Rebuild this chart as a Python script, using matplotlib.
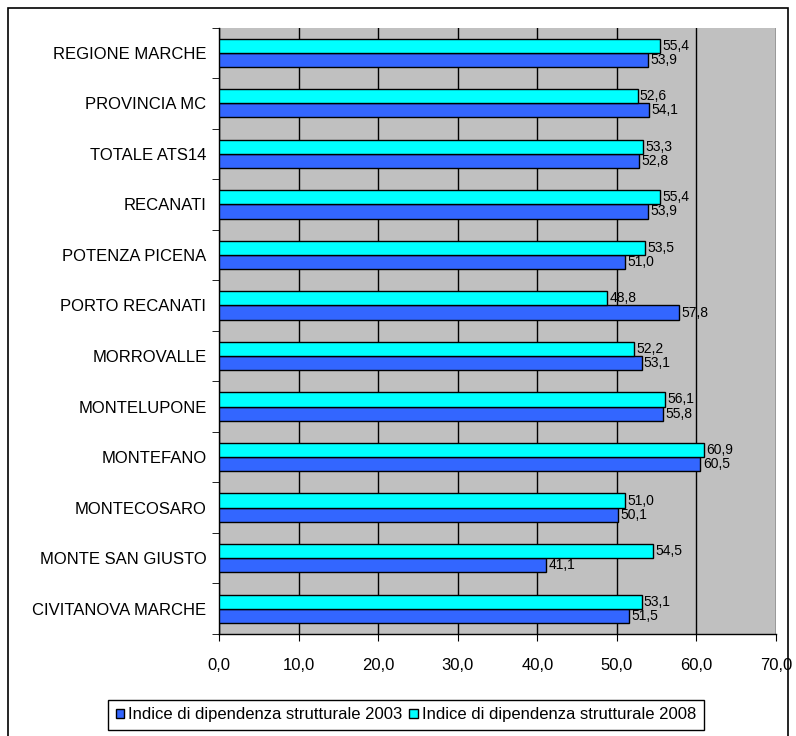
import matplotlib.pyplot as plt
import numpy as np
from matplotlib.patches import Rectangle

plt.rcParams['font.family'] = ['Liberation Sans', 'DejaVu Sans']

# categories listed top to bottom as in the chart
categories = ['REGIONE MARCHE', 'PROVINCIA MC', 'TOTALE ATS14', 'RECANATI',
              'POTENZA PICENA', 'PORTO RECANATI', 'MORROVALLE', 'MONTELUPONE',
              'MONTEFANO', 'MONTECOSARO', 'MONTE SAN GIUSTO', 'CIVITANOVA MARCHE']
val_2003 = [53.9, 54.1, 52.8, 53.9, 51.0, 57.8, 53.1, 55.8, 60.5, 50.1, 41.1, 51.5]
val_2008 = [55.4, 52.6, 53.3, 55.4, 53.5, 48.8, 52.2, 56.1, 60.9, 51.0, 54.5, 53.1]
x_ticks = [0, 10, 20, 30, 40, 50, 60, 70]

fig = plt.figure(figsize=(7.96, 7.36), dpi=100)
fig.patches.append(Rectangle((8 / 796, -0.01), 780 / 796, 1 - 8 / 736 + 0.01,
                             transform=fig.transFigure, fill=False,
                             edgecolor='black', linewidth=1.2))
ax = fig.add_axes([219 / 796, 1 - 634 / 736, 557 / 796, 606.5 / 736])
ax.set_facecolor('#C0C0C0')

n = len(categories)
y = np.arange(n)[::-1].astype(float)
h = 0.28
b03 = ax.barh(y - h / 2, val_2003, height=h, color='#3366FF', edgecolor='black',
              linewidth=1, label='Indice di dipendenza strutturale 2003', zorder=3)
b08 = ax.barh(y + h / 2, val_2008, height=h, color='#00FFFF', edgecolor='black',
              linewidth=1, label='Indice di dipendenza strutturale 2008', zorder=3)

for bars, vals in ((b03, val_2003), (b08, val_2008)):
    for bar, v in zip(bars, vals):
        ax.text(v + 0.3, bar.get_y() + bar.get_height() / 2,
                f'{v:.1f}'.replace('.', ','), va='center', ha='left',
                fontsize=10, zorder=4)

ax.set_xlim(0, 70)
ax.set_ylim(-0.5, n - 0.5)
ax.set_xticks(x_ticks)
ax.set_xticklabels([f'{t:.1f}'.replace('.', ',') for t in x_ticks], fontsize=12)
ax.set_yticks(y)
ax.set_yticklabels(categories, fontsize=12)
ax.set_yticks(np.arange(n + 1) - 0.5, minor=True)
ax.tick_params(axis='y', which='major', length=0, pad=9)
ax.tick_params(axis='y', which='minor', length=5, direction='out')
ax.tick_params(axis='x', length=5, direction='out', pad=12)
ax.xaxis.grid(True, color='black', linewidth=1, zorder=1)
ax.set_axisbelow(True)
for s in ('top', 'right'):
    ax.spines[s].set_visible(False)
for s in ('left', 'bottom'):
    ax.spines[s].set_linewidth(1)

fig.legend(handles=[b03, b08], loc='center', bbox_to_anchor=(406 / 796, 1 - 715 / 736),
           ncol=2, fontsize=12, frameon=True, fancybox=False, edgecolor='black',
           handlelength=0.5, handleheight=0.5, handletextpad=0.25, columnspacing=0.4,
           borderpad=0.45, framealpha=1)

fig.savefig('out.png', dpi=100)
